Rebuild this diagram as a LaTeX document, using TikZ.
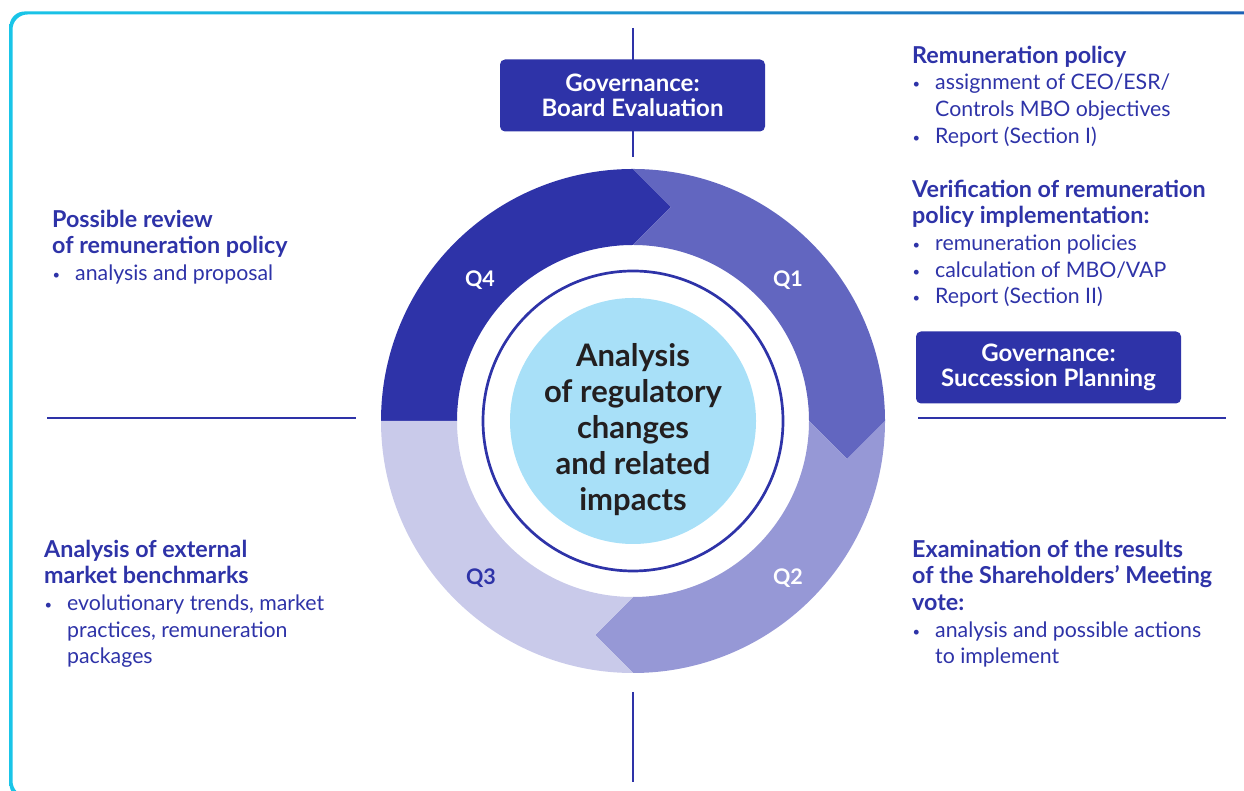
\documentclass[tikz,border=0pt]{standalone}
\usepackage{fontspec}
\setmainfont{Lato}
\usetikzlibrary{calc}
\definecolor{navy}{RGB}{46,51,168}
\definecolor{qone}{RGB}{98,102,192}
\definecolor{qtwo}{RGB}{150,152,214}
\definecolor{qthree}{RGB}{201,202,234}
\definecolor{centerfill}{RGB}{168,224,248}
\definecolor{ink}{RGB}{35,31,32}
\definecolor{bordl}{RGB}{25,197,232}
\definecolor{bordr}{RGB}{30,95,180}
\newcommand{\bul}{\makebox[23pt][l]{\hspace{0.5pt}\raisebox{1pt}{\fontsize{13}{13}\selectfont\textbullet}}}
\newcommand{\ind}{\hspace*{23pt}}
\newcommand{\hd}[1]{{\fontsize{23.3}{26.6}\selectfont\bfseries #1}}
\begin{document}
\begin{tikzpicture}[x=1pt,y=1pt,
  divider/.style={draw=navy, line width=2pt},
  govbox/.style={fill=navy, rounded corners=5pt, minimum width=265pt, minimum height=72pt, text=white, font=\fontsize{24}{25.5}\selectfont\bfseries, align=center, inner sep=0pt},
  infotext/.style={anchor=north west, align=left, inner sep=0pt, text=navy, font=\fontsize{21.3}{26.6}\selectfont},
  qlabel/.style={font=\fontsize{21.5}{21.5}\selectfont\bfseries, text=white, inner sep=0pt},
  ]
\useasboundingbox (0,0) rectangle (1244,791);
% frame
\begin{scope}
\clip (0,0) rectangle (1244,791);
\shade[left color=bordl, right color=bordr, even odd rule, rounded corners=15pt]
  (9.5,-8) rectangle (1270,779.5) (12.5,-5) rectangle (1267,776.5);
\end{scope}
% dividers
\coordinate (C) at (633,370);
\coordinate (topA) at (633,763);
\coordinate (topB) at (633,634);
\coordinate (botA) at (633,99);
\coordinate (botB) at (633,9);
\coordinate (leftA) at (47,373);
\coordinate (leftB) at (356,373);
\coordinate (rightA) at (918,373);
\coordinate (rightB) at (1226,373);
\draw[divider] (topA) -- (topB);
\draw[divider] (botA) -- (botB);
\draw[divider] (leftA) -- (leftB);
\draw[divider] (rightA) -- (rightB);
% ring segments
\fill[navy] ($(C)+(-252,0)$) arc[start angle=180,end angle=90,radius=252]
  -- ($(C)+(38,214)$) -- ($(C)+(0,176)$) arc[start angle=90,end angle=180,radius=176] -- cycle;
\fill[qone] ($(C)+(0,252)$) arc[start angle=90,end angle=0,radius=252]
  -- ($(C)+(214,-38)$) -- ($(C)+(176,0)$) arc[start angle=0,end angle=90,radius=176]
  -- ($(C)+(38,214)$) -- cycle;
\fill[qtwo] ($(C)+(252,0)$) arc[start angle=0,end angle=-90,radius=252]
  -- ($(C)+(-38,-214)$) -- ($(C)+(0,-176)$) arc[start angle=-90,end angle=0,radius=176]
  -- ($(C)+(214,-38)$) -- cycle;
\fill[qthree] ($(C)+(0,-252)$) arc[start angle=-90,end angle=-180,radius=252]
  -- ($(C)+(-176,0)$) arc[start angle=180,end angle=270,radius=176]
  -- ($(C)+(-38,-214)$) -- cycle;
% inner circles
\draw[navy, line width=2.7pt] (C) circle[radius=150];
\node[circle, fill=centerfill, minimum size=246pt, inner sep=0pt] (core) at (C) {};
\node[anchor=north, align=center, inner sep=0pt, text=ink, font=\fontsize{31}{36}\selectfont\bfseries] (coretext) at (633,450.2)
  {\strut Analysis\\of regulatory\\changes\\and related\\impacts};
% quarter labels
\node[qlabel] (q4) at (480,511) {Q4};
\node[qlabel] (q1) at (788,511) {Q1};
\node[qlabel] (q2) at (788,213) {Q2};
\node[qlabel, text=navy] (q3) at (481,213) {Q3};
% governance boxes
\node[govbox] (gov1) at (632.5,695.5) {Governance:\\Board Evaluation};
\node[govbox] (gov2) at (1048.5,423.5) {Governance:\\Succession Planning};
% text blocks
\node[infotext] (tr1) at (912,746.6) {\strut\hd{Remuneration policy}\\
  \bul assignment of CEO/ESR/\\
  \ind Controls MBO objectives\\
  \bul Report (Section I)};
\node[infotext] (tr2) at (912,612.6) {\strut\hd{Verification of remuneration}\\
  \hd{policy implementation:}\\
  \bul remuneration policies\\
  \bul calculation of MBO/VAP\\
  \bul Report (Section II)};
\node[infotext] (lt) at (52,582.6) {\strut\hd{Possible review}\\
  \hd{of remuneration policy}\\
  \bul analysis and proposal};
\node[infotext] (lb) at (44,252.6) {\strut\hd{Analysis of external}\\
  \hd{market benchmarks}\\
  \bul evolutionary trends, market\\
  \ind practices, remuneration\\
  \ind packages};
\node[infotext] (rb) at (912,252.6) {\strut\hd{Examination of the results}\\
  \hd{of the Shareholders’ Meeting}\\
  \hd{vote:}\\
  \bul analysis and possible actions\\
  \ind to implement};
\end{tikzpicture}
\end{document}
